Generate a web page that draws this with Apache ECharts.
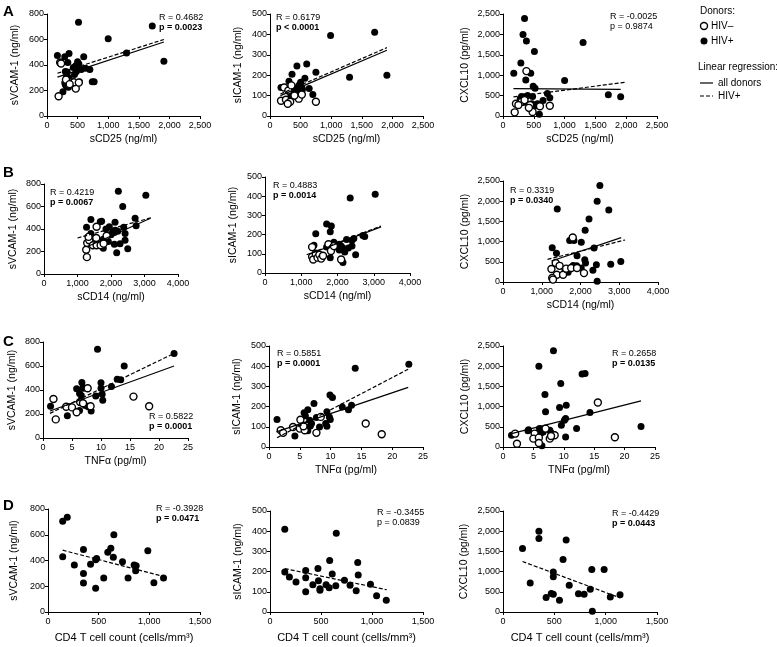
<!DOCTYPE html>
<html><head><meta charset="utf-8">
<script src="https://cdn.jsdelivr.net/npm/echarts/dist/echarts.min.js"></script>
<style>html,body{margin:0;padding:0;background:#fff}#c{width:777px;height:647px}</style>
</head><body><div id="c"></div>
<script>
// ---------- DATA ----------
// Row A: sCD25 (ng/ml)
const a1Open   = [[215,420],[230,412],[190,155],[470,215],[400,260],[440,265],[340,275],[310,285],[520,262],[370,250]];
const a1Filled = [[515,735],[1720,705],[1000,605],[1300,495],[1910,430],[170,475],[290,465],[360,490],[340,420],[500,425],[520,410],[600,465],[470,395],[430,380],[300,350],[330,345],[320,310],[360,300],[560,365],[630,375],[700,365],[740,268],[770,268],[530,268],[290,260],[300,245],[320,230],[350,225],[260,190],[400,268],[480,350],[450,325]];
const a1Solid  = [[170,305],[1910,580]];
const a1Dashed = [[170,335],[1910,600]];

const a2Open   = [[750,70],[180,75],[230,140],[300,125],[350,150],[470,85],[520,105],[400,100],[260,80],[330,70],[290,60]];
const a2Filled = [[990,395],[1710,410],[1300,190],[1910,200],[440,245],[600,255],[360,205],[750,215],[500,165],[310,170],[470,150],[520,140],[570,185],[180,140],[640,135],[700,105],[320,120],[400,115],[450,130],[280,65],[330,90],[530,130],[410,135],[380,95],[490,120]];
const a2Solid  = [[170,100],[1910,322]];
const a2Dashed = [[170,108],[1910,335]];

const a3Open   = [[380,1100],[190,90],[300,350],[210,300],[250,270],[440,270],[600,240],[760,250],[480,100],[350,390],[420,200]];
const a3Filled = [[350,2390],[325,2000],[380,1840],[510,1580],[1300,1800],[290,1300],[175,1050],[450,1050],[370,880],[1000,870],[490,730],[520,680],[720,550],[1710,520],[1910,470],[760,450],[650,380],[300,480],[350,470],[400,500],[480,480],[280,420],[560,300],[590,40],[540,250],[470,300],[330,330]];
const a3Solid  = [[170,670],[1910,655]];
const a3Dashed = [[170,470],[2000,830]];

// Row B: sCD14 (ng/ml)
const b1Open   = [[1280,150],[1260,215],[1570,420],[1290,275],[1350,300],[1460,255],[1570,255],[1690,255],[1560,320],[1870,340],[1780,270],[1330,330]];
const b1Filled = [[2220,735],[3040,700],[2350,600],[1400,485],[1680,465],[1720,470],[2120,460],[2720,495],[2750,430],[1270,415],[1950,420],[2050,380],[2100,370],[2130,390],[2380,415],[2420,360],[1400,360],[1770,310],[1650,270],[1770,228],[1920,290],[2270,268],[2100,265],[2170,190],[2420,300],[2500,225],[2000,350],[2200,380],[1850,400]];
const b1Solid  = [[1300,245],[3180,495]];
const b1Dashed = [[1000,320],[3200,500]];

const b2Open   = [[1300,135],[1300,85],[1330,70],[1400,100],[1450,80],[1500,95],[1550,75],[1600,90],[1750,150],[1820,115],[2100,70],[1900,140]];
const b2Filled = [[2350,390],[3040,410],[1700,255],[1830,245],[1800,215],[1400,205],[2000,145],[2050,150],[2100,140],[2150,130],[2250,175],[2400,170],[2450,180],[2700,195],[2750,190],[2500,95],[2150,55],[1800,80],[1350,145],[2300,130],[2400,140],[2050,120],[1950,135],[1700,135],[2200,110],[1900,160]];
const b2Solid  = [[1250,100],[3200,240]];
const b2Dashed = [[1150,95],[3200,245]];

const b3Open   = [[1800,1100],[1360,470],[1460,400],[1250,320],[1390,180],[1550,180],[1630,330],[1760,345],[1910,345],[2090,220],[1270,100],[1290,60]];
const b3Filled = [[2500,2390],[2430,2000],[2730,1780],[1400,1810],[2220,1560],[2120,1280],[1720,1030],[1830,1030],[2020,985],[1270,850],[1380,710],[2350,840],[1910,650],[2110,550],[2130,470],[2410,430],[2780,440],[3040,510],[2020,345],[1810,410],[2320,290],[1680,240],[2430,20],[1600,300],[1900,400]];
const b3Solid  = [[1250,520],[3050,1100]];
const b3Dashed = [[1150,560],[3150,1040]];

// Row C: TNFα (pg/ml)
const c1Open   = [[1.8,325],[2.2,155],[4.0,260],[5.0,255],[5.8,215],[6.4,300],[7.7,415],[8.2,265],[15.6,345],[18.3,265],[6.9,290]];
const c1Filled = [[9.4,740],[22.6,705],[14,600],[12.8,490],[13.4,485],[11.8,430],[10,460],[6.7,462],[5.8,410],[6.9,420],[10,415],[10.2,365],[9.1,350],[10.3,315],[6.3,370],[6.6,355],[7.3,270],[7.8,260],[8.3,225],[6.3,230],[4.2,185],[1.3,265],[7.0,415]];
const c1Solid  = [[1.2,225],[22.6,600]];
const c1Dashed = [[1.2,205],[22.6,705]];

const c2Open   = [[5.1,135],[1.9,83],[2.3,70],[3.9,99],[5.0,91],[5.8,83],[5.6,103],[7.7,70],[8.4,149],[15.7,116],[18.3,63]];
const c2Filled = [[22.7,410],[14,390],[9.9,258],[10.3,245],[7.3,215],[6.3,185],[5.7,170],[11.9,198],[12.9,185],[13.4,207],[9.4,174],[9.8,149],[9.95,136],[7.7,146],[6.6,132],[6.9,116],[6.7,104],[9.2,116],[9.4,103],[8.2,99],[6.3,80],[4.2,55],[1.3,136],[5.9,155]];
const c2Solid  = [[1.2,75],[22.6,295]];
const c2Dashed = [[1.3,46],[22.6,385]];

const c3Open   = [[15.6,1100],[2.0,330],[2.3,80],[5.2,330],[5.0,207],[5.9,232],[5.9,100],[7.0,455],[7.7,207],[8.5,290],[18.4,240],[7.9,273]];
const c3Filled = [[8.3,2380],[5.9,2000],[13.5,1820],[13.0,1805],[9.5,1570],[6.9,1300],[7.0,870],[9.3,980],[10.4,1035],[14.3,855],[10.3,705],[10.1,660],[9.6,540],[12.1,455],[22.7,510],[4.2,430],[4.1,400],[6.0,455],[7.7,415],[6.3,350],[6.6,370],[1.4,290],[10.3,250],[6.4,30],[7.9,350]];
const c3Solid  = [[1.4,330],[22.7,1140]];
const c3Dashed = [];

// Row D: CD4 T cell count (cells/mm3), HIV+ only
const d1Filled = [[145,705],[190,735],[650,600],[620,495],[985,475],[590,465],[350,485],[645,425],[145,430],[480,415],[470,405],[260,365],[420,370],[735,390],[850,365],[870,360],[865,320],[350,300],[550,265],[790,265],[1140,265],[350,225],[1045,228],[470,185]];
const d1Dashed = [[145,480],[1145,275]];
const d2Filled = [[145,410],[650,390],[145,198],[190,173],[255,149],[350,205],[350,170],[350,100],[420,135],[470,215],[475,155],[490,115],[490,108],[585,255],[610,188],[550,135],[580,120],[645,130],[730,157],[785,132],[860,245],[865,183],[845,105],[985,137],[1045,80],[1140,58]];
const d2Dashed = [[145,215],[1145,110]];
const d3Filled = [[350,2000],[350,1820],[615,1780],[190,1570],[585,1300],[865,1050],[985,1050],[490,990],[490,870],[265,720],[645,660],[850,565],[470,455],[490,437],[420,360],[550,290],[735,450],[790,440],[1045,370],[1140,430],[870,20]];
const d3Dashed = [[190,1250],[1140,350]];

// Statistics text
const statR = ['R = 0.4682','R = 0.6179','R = -0.0025','R = 0.4219','R = 0.4883','R = 0.3319','R = 0.5822','R = 0.5851','R = 0.2658','R = -0.3928','R = -0.3455','R = -0.4429'];
const statP = ['p = 0.0023','p < 0.0001','p = 0.9874','p = 0.0067','p = 0.0014','p = 0.0340','p = 0.0001','p = 0.0001','p = 0.0135','p = 0.0471','p = 0.0839','p = 0.0443'];
const statPBold = [true,true,false,true,true,true,true,true,true,true,false,true];

const xNames = ['sCD25 (ng/ml)','sCD14 (ng/ml)','TNFα (pg/ml)','CD4 T cell count (cells/mm³)'];
const yNames = ['sVCAM-1 (ng/ml)','sICAM-1 (ng/ml)','CXCL10 (pg/ml)'];
const xMaxes = [2500,4000,25,1500];
const xSteps = [500,1000,5,500];
const yMaxes = [800,500,2500];
const ySteps = [200,100,500];

// ---------- LAYOUT ----------
const FONT = 'Liberation Sans, Arial, Helvetica, sans-serif';
const grids = [
  [47,14,153,102],[270,14,153,102],[503,14,154,102],
  [44,184,134,90],[265,177,145,96],[503,181,155,101],
  [43,342,145,96],[269,346,154,101],[503,346,152,101],
  [48,509,152,103],[270,511,153,101],[503,511,154,101]
];
const yNameGaps = [26,26,32, 25,26,32, 25,26,32, 28,26,33];
const statPos = [[159,18],[276,18],[610,17],[50,193],[273,186],[510,191],[149,417],[277,354],[612,354],[156,509],[377,513],[612,514]];

const panels = [
  [a1Open,a1Filled,a1Solid,a1Dashed],[a2Open,a2Filled,a2Solid,a2Dashed],[a3Open,a3Filled,a3Solid,a3Dashed],
  [b1Open,b1Filled,b1Solid,b1Dashed],[b2Open,b2Filled,b2Solid,b2Dashed],[b3Open,b3Filled,b3Solid,b3Dashed],
  [c1Open,c1Filled,c1Solid,c1Dashed],[c2Open,c2Filled,c2Solid,c2Dashed],[c3Open,c3Filled,c3Solid,c3Dashed],
  [[],d1Filled,[],d1Dashed],[[],d2Filled,[],d2Dashed],[[],d3Filled,[],d3Dashed]
];

const fmt = v => String(v).replace(/\B(?=(\d{3})+(?!\d))/g, ',');

const option = {animation:false, backgroundColor:'#fff', grid:[], xAxis:[], yAxis:[], series:[], graphic:[]};
const axisCommon = {
  axisLine:{onZero:false, lineStyle:{color:'#000', width:1}},
  axisTick:{show:true, length:3, lineStyle:{color:'#000', width:1}},
  splitLine:{show:false},
  nameLocation:'middle'
};
panels.forEach((p,i)=>{
  const row = Math.floor(i/3), col = i%3;
  const g = grids[i];
  option.grid.push({left:g[0], top:g[1], width:g[2], height:g[3], containLabel:false});
  option.xAxis.push(Object.assign({}, axisCommon, {
    gridIndex:i, type:'value', min:0, max:xMaxes[row], interval:xSteps[row],
    name:xNames[row], nameGap: row===3 ? 20 : 18,
    nameTextStyle:{color:'#000', fontFamily:FONT, fontSize: row===3 ? 11 : 10.5},
    axisLabel:{color:'#000', fontFamily:FONT, fontSize:9, margin:5, formatter:fmt}
  }));
  option.yAxis.push(Object.assign({}, axisCommon, {
    gridIndex:i, type:'value', min:0, max:yMaxes[col], interval:ySteps[col],
    name:yNames[col], nameGap:yNameGaps[i], nameRotate:90,
    nameTextStyle:{color:'#000', fontFamily:FONT, fontSize:10.5},
    axisLabel:{color:'#000', fontFamily:FONT, fontSize:9, margin:3, formatter:fmt}
  }));
  const [open, filled, solid, dashed] = p;
  option.series.push({type:'scatter', xAxisIndex:i, yAxisIndex:i, data:filled, symbol:'circle', symbolSize:7,
    itemStyle:{color:'#000', opacity:1}, z:2, silent:true});
  if (open.length) option.series.push({type:'scatter', xAxisIndex:i, yAxisIndex:i, data:open, symbol:'circle', symbolSize:7,
    itemStyle:{color:'#fff', borderColor:'#000', borderWidth:1.4, opacity:1}, z:3, silent:true});
  if (solid.length) option.series.push({type:'line', xAxisIndex:i, yAxisIndex:i, data:solid, symbol:'none',
    lineStyle:{color:'#000', width:1.2, type:'solid'}, z:4, silent:true});
  if (dashed.length) option.series.push({type:'line', xAxisIndex:i, yAxisIndex:i, data:dashed, symbol:'none',
    lineStyle:{color:'#000', width:1.2, type:[4,2]}, z:4, silent:true});
  const sp = statPos[i];
  option.graphic.push({type:'text', x:sp[0], y:sp[1], style:{text:statR[i], font:'9px '+FONT, fill:'#000', verticalAlign:'middle'}});
  option.graphic.push({type:'text', x:sp[0], y:sp[1]+10, style:{text:statP[i], font:(statPBold[i]?'bold ':'')+'9px '+FONT, fill:'#000', verticalAlign:'middle'}});
});

// panel letters
[['A',3,4],['B',3,165],['C',3,334],['D',3,498]].forEach(l=>{
  option.graphic.push({type:'text', x:l[1], y:l[2], style:{text:l[0], font:'bold 15px '+FONT, fill:'#000', verticalAlign:'top'}});
});

// legend
const LF = '10px '+FONT;
const lg = [
  {type:'text', x:700, y:11, style:{text:'Donors:', font:LF, fill:'#000', verticalAlign:'middle'}},
  {type:'circle', shape:{cx:704, cy:26, r:3.5}, style:{fill:'#fff', stroke:'#000', lineWidth:1.4}},
  {type:'text', x:711, y:26, style:{text:'HIV–', font:LF, fill:'#000', verticalAlign:'middle'}},
  {type:'circle', shape:{cx:704, cy:41, r:3.5}, style:{fill:'#000'}},
  {type:'text', x:711, y:41, style:{text:'HIV+', font:LF, fill:'#000', verticalAlign:'middle'}},
  {type:'text', x:698, y:67, style:{text:'Linear regression:', font:LF, fill:'#000', verticalAlign:'middle'}},
  {type:'line', shape:{x1:700, y1:83, x2:713, y2:83}, style:{stroke:'#000', lineWidth:1.2}},
  {type:'text', x:718, y:83, style:{text:'all donors', font:LF, fill:'#000', verticalAlign:'middle'}},
  {type:'line', shape:{x1:700, y1:96, x2:713, y2:96}, style:{stroke:'#000', lineWidth:1.2, lineDash:[4,2]}},
  {type:'text', x:718, y:96, style:{text:'HIV+', font:LF, fill:'#000', verticalAlign:'middle'}}
];
option.graphic.push(...lg);

const chart = echarts.init(document.getElementById('c'), null, {renderer:'canvas', width:777, height:647});
chart.setOption(option);
</script>
</body></html>
